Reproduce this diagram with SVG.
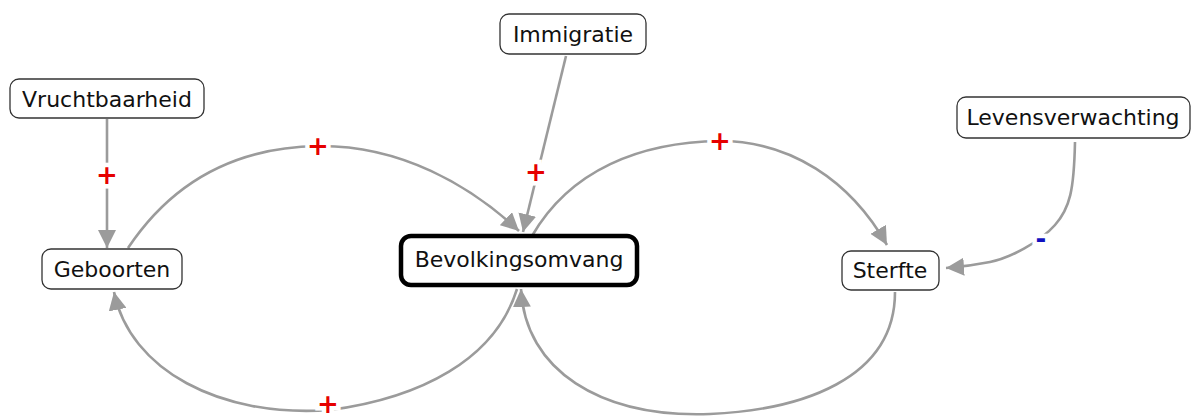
<svg xmlns="http://www.w3.org/2000/svg" width="1192" height="417" viewBox="0 0 1192 417">
  <style>
    .node rect { fill: #ffffff; stroke: #333333; stroke-width: 1.3; }
    .node text { font-family: "DejaVu Sans", Verdana, sans-serif; font-size: 22px; fill: #111111; text-anchor: middle; dominant-baseline: central; }
    #bevolkingsomvang rect { stroke: #000000; stroke-width: 4.5; }
    .link { fill: none; stroke: #9b9b9b; stroke-width: 2.6; marker-end: url(#arrow); }
    .sign { font-family: "DejaVu Sans", Verdana, sans-serif; font-weight: bold; font-size: 26px; text-anchor: middle; dominant-baseline: central; stroke: #ffffff; stroke-width: 9; paint-order: stroke; }
    .plus { fill: #e60000; }
    .minus { fill: #1010c0; }
  </style>
  <defs>
    <marker id="arrow" markerUnits="userSpaceOnUse" markerWidth="18" markerHeight="18" refX="18" refY="9" orient="auto">
      <path d="M0,0 L18,9 L0,18 z" fill="#9b9b9b"/>
    </marker>
  </defs>

  <rect width="1192" height="417" fill="#ffffff"/>

  <!-- causal links -->
  <g id="connectors">
    <path class="link" d="M107,119 L107,248"/>
    <path class="link" d="M128,248 C180,170 250,147 318,146 C400,145 470,185 519,231"/>
    <path class="link" d="M566,56 L523,232"/>
    <path class="link" d="M532,236 C570,170 640,142 720,141 C790,141 850,180 887,245"/>
    <path class="link" d="M1075,142 C1074,190 1070,208 1055,225 C1040,242 1010,258 990,262 C975,265 960,267 946,268"/>
    <path class="link" d="M517,289 C495,360 420,398 330,410 C220,418 130,370 114,292"/>
    <path class="link" d="M895,292 C895,380 800,410 710,414 C600,418 525,370 521,289"/>

    <text class="sign plus" x="107" y="175">+</text>
    <text class="sign plus" x="318" y="146">+</text>
    <text class="sign plus" x="536" y="172">+</text>
    <text class="sign plus" x="720" y="141">+</text>
    <text class="sign minus" x="1041" y="239">-</text>
    <text class="sign plus" x="328" y="404">+</text>
  </g>

  <g id="vruchtbaarheid" class="node">
    <rect x="10" y="79" width="194" height="39" rx="9"/>
    <text x="107" y="99">Vruchtbaarheid</text>
  </g>
  <g id="immigratie" class="node">
    <rect x="500" y="14" width="146" height="40" rx="9"/>
    <text x="573" y="34">Immigratie</text>
  </g>
  <g id="levensverwachting" class="node">
    <rect x="957" y="97" width="233" height="41" rx="9"/>
    <text x="1073" y="117">Levensverwachting</text>
  </g>
  <g id="geboorten" class="node">
    <rect x="42" y="249" width="140" height="40" rx="9"/>
    <text x="112" y="269">Geboorten</text>
  </g>
  <g id="bevolkingsomvang" class="node">
    <rect x="401" y="236" width="236" height="49" rx="10"/>
    <text x="519" y="259">Bevolkingsomvang</text>
  </g>
  <g id="sterfte" class="node">
    <rect x="842" y="251" width="97" height="39" rx="9"/>
    <text x="890" y="270">Sterfte</text>
  </g>
</svg>
